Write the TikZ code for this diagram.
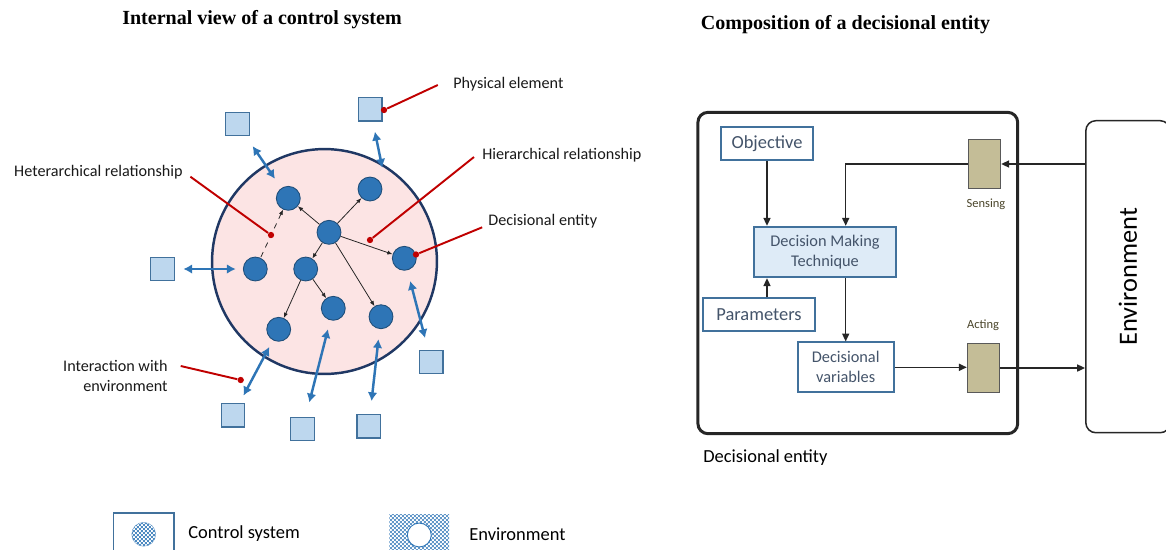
\documentclass[tikz,border=0pt]{standalone}
\usepackage{graphicx}
\usepackage{fontspec}
\setmainfont{Carlito}
\newfontfamily\titlefont{Liberation Serif}
\usetikzlibrary{arrows.meta,patterns}
\definecolor{ocean}{RGB}{46, 117, 182}
\definecolor{deepsea}{RGB}{31, 78, 121}
\definecolor{navy}{RGB}{32, 56, 100}
\definecolor{blush}{RGB}{252, 228, 228}
\definecolor{sky}{RGB}{189, 215, 238}
\definecolor{steel}{RGB}{65, 113, 156}
\definecolor{crimson}{RGB}{192, 0, 0}
\definecolor{frost}{RGB}{222, 235, 247}
\definecolor{slate}{RGB}{68, 84, 106}
\definecolor{khaki}{RGB}{196, 189, 151}
\definecolor{umber}{RGB}{73, 68, 41}
\pgfdeclarepatternformonly{finecheck}{\pgfqpoint{0pt}{0pt}}{\pgfqpoint{2.2pt}{2.2pt}}{\pgfqpoint{2.2pt}{2.2pt}}{%
  \pgfpathrectangle{\pgfqpoint{0pt}{0pt}}{\pgfqpoint{1.1pt}{1.1pt}}%
  \pgfpathrectangle{\pgfqpoint{1.1pt}{1.1pt}}{\pgfqpoint{1.1pt}{1.1pt}}%
  \pgfusepath{fill}}

\begin{document}
\begin{tikzpicture}[x=0.02cm, y=-0.02cm,
    heading/.style={font=\titlefont\bfseries\fontsize{11.4}{13}\selectfont, inner sep=0pt},
    note/.style={font=\fontsize{9.2}{11.3}\selectfont, text=black!90, inner sep=0pt},
    entity/.style={circle, fill=ocean, draw=deepsea, line width=0.5pt, minimum size=13.6pt, inner sep=0pt},
    physical/.style={rectangle, fill=sky, draw=steel, line width=0.75pt, minimum size=13.4pt, inner sep=0pt},
    hlink/.style={-{Latex[length=3pt,width=2.4pt]}, line width=0.45pt, black!85},
    envlink/.style={{Latex[length=5pt,width=5.5pt]}-{Latex[length=5pt,width=5.5pt]}, line width=1.4pt, ocean},
    leader/.style={crimson, line width=1.1pt},
    reddot/.style={circle, fill=crimson, minimum size=3.6pt, inner sep=0pt},
    block/.style={rectangle, fill=white, draw=steel, line width=1.1pt, text=slate, inner sep=0pt,
        minimum height=18.5pt, font=\fontsize{10.5}{12}\selectfont},
    device/.style={rectangle, fill=khaki, draw=black!65, line width=0.6pt, minimum width=18.4pt, minimum height=27.4pt},
    flow/.style={-{Triangle[length=4.5pt,width=4pt]}, line width=0.85pt, black!85},
    small/.style={font=\fontsize{7.1}{8}\selectfont, text=umber, inner sep=0pt}]
  \useasboundingbox (0,0) rectangle (1166,549);

  % left: control system
  \node[heading] (titleL) at (262,20) {Internal view of a control system};
  \node[circle, fill=blush, draw=navy, line width=1.4pt, minimum size=128pt] (sys) at (324.5,261.5) {};

  \node[entity] (hub) at (329.0,232.3) {};
  \node[entity] (eNW) at (288.3,198.3) {};
  \node[entity] (eNE) at (370.0,189.0) {};
  \node[entity] (eE)  at (404.3,258.3) {};
  \node[entity] (eW)  at (255.3,269.0) {};
  \node[entity] (eM)  at (305.7,269.0) {};
  \node[entity] (eS)  at (333.3,308.3) {};
  \node[entity] (eSE) at (381.0,316.7) {};
  \node[entity] (eSW) at (278.7,329.3) {};

  \draw[hlink] (hub) -- (eNW);
  \draw[hlink] (hub) -- (eNE);
  \draw[hlink] (hub) -- (eE);
  \draw[hlink] (hub) -- (eM);
  \draw[hlink] (hub) -- (eSE);
  \draw[hlink] (eM) -- (eSW);
  \draw[hlink] (eM) -- (eS);
  \draw[hlink, {Latex[length=3pt,width=2.4pt]}-, dashed] (eNW) -- (eW);

  \node[physical] (pNW) at (237.5,124.0) {};
  \node[physical] (pN)  at (370.3,109.3) {};
  \node[physical] (pW)  at (162.5,269.0) {};
  \node[physical] (pE)  at (431.3,362.0) {};
  \node[physical] (pSW) at (233.0,415.3) {};
  \node[physical] (pS)  at (302.5,429.0) {};
  \node[physical] (pSE) at (368.7,426.3) {};
  \coordinate (rim) at (382.3,167.7);

  \draw[envlink, shorten <=6.7pt, shorten >=6.4pt] (pNW) -- (eNW);
  \draw[envlink, shorten <=5.8pt] (pN) -- (rim);
  \draw[envlink, shorten <=4.8pt, shorten >=4.1pt] (pW) -- (eW);
  \draw[envlink, shorten <=6.8pt, shorten >=6.3pt] (pE) -- (eE);
  \draw[envlink, shorten <=4.7pt, shorten >=4.3pt] (pSW) -- (eSW);
  \draw[envlink, shorten <=8.3pt, shorten >=5.2pt] (pS) -- (eS);
  \draw[envlink, shorten <=7.3pt, shorten >=5.8pt] (pSE) -- (eSE);

  % callouts
  \node[note, anchor=west] (tPhys) at (453,84) {Physical element};
  \node[note, anchor=west] (tHier) at (482,155) {Hierarchical relationship};
  \node[note, anchor=east] (tHet) at (183,172) {Heterarchical relationship};
  \node[note, anchor=west] (tDec) at (488,221) {Decisional entity};
  \node[note, anchor=east, align=right] (tInt) at (168,376) {Interaction with\\environment};
  \coordinate (cPhys) at (437.8,85.0);
  \coordinate (cHier) at (474.0,157.0);
  \coordinate (cHet)  at (190.4,176.7);
  \coordinate (cDec)  at (482.2,227.3);
  \coordinate (cInt)  at (180.7,366.0);
  \node[reddot] (dPhys) at (384.0,110.0) {};
  \node[reddot] (dHier) at (370.0,240.0) {};
  \node[reddot] (dHet)  at (271.0,235.0) {};
  \node[reddot] (dDec)  at (416.0,254.5) {};
  \node[reddot] (dInt)  at (240.7,380.0) {};
  \draw[leader] (cPhys) -- (dPhys);
  \draw[leader] (cHier) -- (dHier);
  \draw[leader] (cHet) -- (dHet);
  \draw[leader] (cDec) -- (dDec);
  \draw[leader] (cInt) -- (dInt);

  % legend
  \node[draw=steel, line width=1.1pt, minimum width=34.4pt, minimum height=23.8pt] (legSys) at (143.7,534.3) {};
  \node[circle, minimum size=13.6pt, fill=white, draw=ocean!60, line width=0.3pt,
        postaction={pattern=finecheck, pattern color=ocean!85}] (legDot) at (legSys) {};
  \node[anchor=west, inner sep=0pt, font=\fontsize{10.5}{12}\selectfont] (legSysT) at (188,534) {Control system};
  \node[minimum width=34pt, minimum height=23.8pt, fill=white,
        postaction={pattern=finecheck, pattern color=ocean!75}] (legEnv) at (419.3,535) {};
  \node[circle, minimum size=13.6pt, fill=white, draw=ocean, line width=0.5pt] (legHole) at (legEnv) {};
  \node[anchor=west, inner sep=0pt, font=\fontsize{10.5}{12}\selectfont] (legEnvT) at (469,534) {Environment};

  % right: decisional entity
  \node[heading] (titleR) at (845.5,25) {Composition of a decisional entity};
  \node[draw=black!85, line width=1.7pt, rounded corners=5.7pt, minimum width=182pt, minimum height=182.9pt] (frame) at (857.8,273.0) {};
  \node[anchor=west, inner sep=0pt, font=\fontsize{10.5}{12}\selectfont] (frameT) at (703,458) {Decisional entity};

  \node[block, minimum width=52.5pt] (obj) at (767.0,143.7) {Objective};
  \node[block, fill=frost, minimum width=81.3pt, minimum height=28.7pt, align=center,
        font=\fontsize{9.3}{11.3}\selectfont] (dmt) at (825.0,252.0) {Decision Making\\Technique};
  \node[block, minimum width=63.8pt] (par) at (759.0,314.5) {Parameters};
  \node[block, minimum width=54.8pt, minimum height=28.3pt, align=center,
        font=\fontsize{9.3}{11.3}\selectfont] (dvar) at (845.7,367.3) {Decisional\\variables};
  \node[device] (sens) at (984.5,164.0) {};
  \node[device] (act) at (983.5,368.0) {};
  \node[small] (sensT) at (986,204) {Sensing};
  \node[small] (actT) at (983,325) {Acting};
  \node[draw=black!85, line width=0.85pt, rounded corners=5.7pt, minimum width=48pt, minimum height=177.6pt,
        font=\fontsize{15}{18}\selectfont] (env) at (1128.0,276.7) {\rotatebox{90}{Environment}};

  \draw[flow] (obj.south) -- (obj.south |- dmt.north);
  \draw[flow] (obj.south |- par.north) -- (obj.south |- dmt.south);
  \draw[flow] (sens.west) -| (dmt.north -| dvar.north);
  \draw[flow] (dmt.south -| dvar.north) -- (dvar.north);
  \draw[flow] (dvar.east) -- (dvar.east -| act.west);
  \draw[flow] (env.west |- sens.east) -- (sens.east);
  \draw[flow] (act.east) -- (act.east -| env.west);
\end{tikzpicture}
\end{document}
